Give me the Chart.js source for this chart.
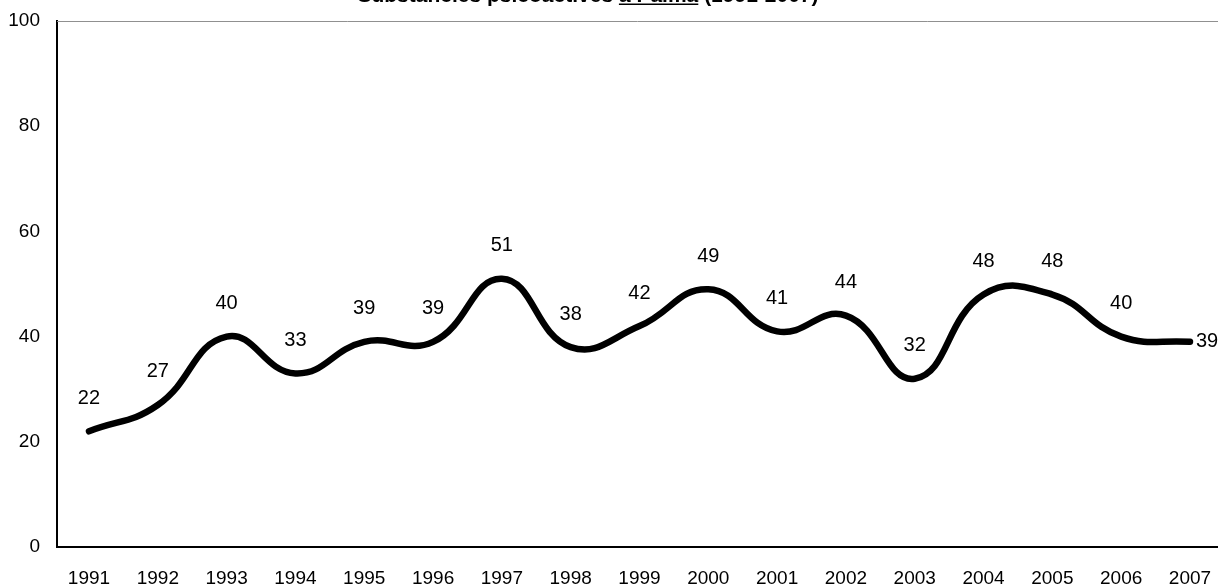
<!DOCTYPE html>
<html>
<head>
<meta charset="utf-8">
<script src="https://cdn.jsdelivr.net/npm/chart.js@4"></script>
<style>
  html, body { margin: 0; padding: 0; background: #fff; overflow: hidden; }
  #wrap { width: 1218px; height: 586px; }
</style>
</head>
<body>
<div id="wrap"><canvas id="myChart" width="1218" height="586"></canvas></div>
<script>
const years = ['1991', '1992', '1993', '1994', '1995', '1996', '1997', '1998', '1999',
               '2000', '2001', '2002', '2003', '2004', '2005', '2006', '2007']
const values = [22, 27, 40, 33, 39, 39, 51, 38, 42, 49, 41, 44, 32, 48, 48, 40, 39]
const yTicks = [0, 20, 40, 60, 80, 100]

const titleText = 'Substancies psicoactives '
const titleUnderlined = 'a Palma'
const titleEnd = ' (1991-2007)'

const FONT = '"Liberation Sans", Arial, sans-serif'

// title is cut off at the top edge in the original
const titlePlugin = {
    id: 'cutTitle',
    afterDraw(chart) {
        const ctx = chart.ctx
        ctx.save()
        ctx.font = 'bold 21px ' + FONT
        ctx.fillStyle = '#000'
        ctx.textBaseline = 'alphabetic'
        const full = titleText + titleUnderlined + titleEnd
        const w = ctx.measureText(full).width
        let x = 588 - w / 2
        const y = 2
        ctx.textAlign = 'left'
        ctx.fillText(titleText, x, y)
        x += ctx.measureText(titleText).width
        const uw = ctx.measureText(titleUnderlined).width
        ctx.fillText(titleUnderlined, x, y)
        ctx.fillRect(x, y + 1.5, uw, 1.5)
        x += uw
        ctx.fillText(titleEnd, x, y)
        ctx.restore()
    }
}

const framePlugin = {
    id: 'frame',
    beforeDatasetsDraw(chart) {
        const { ctx, chartArea } = chart
        ctx.save()
        ctx.strokeStyle = '#909090'
        ctx.lineWidth = 1
        ctx.beginPath()
        ctx.moveTo(chartArea.left, chartArea.top + 0.5)
        ctx.lineTo(chart.width, chartArea.top + 0.5)
        ctx.stroke()
        ctx.restore()
    }
}

const labelPlugin = {
    id: 'valueLabels',
    afterDatasetsDraw(chart) {
        const ctx = chart.ctx
        const meta = chart.getDatasetMeta(0)
        ctx.save()
        ctx.font = '20px ' + FONT
        ctx.fillStyle = '#000'
        ctx.textBaseline = 'middle'
        meta.data.forEach((pt, i) => {
            const txt = String(values[i])
            if (i === values.length - 1) {
                ctx.textAlign = 'left'
                ctx.fillText(txt, pt.x + 6, pt.y)
            } else {
                ctx.textAlign = 'center'
                ctx.fillText(txt, pt.x, pt.y - 33)
            }
        })
        ctx.restore()
    }
}

const chartInstance = new Chart(document.getElementById('myChart'), {
    type: 'line',
    data: {
        datasets: [
            {
                label: 'Palma',
                data: values.map((v, i) => ({ x: i, y: v })),
                borderColor: '#000',
                backgroundColor: '#000',
                borderWidth: 6.5,
                borderCapStyle: 'round',
                borderJoinStyle: 'round',
                pointRadius: 0,
                tension: 0.45,
                fill: false,
            }
        ]
    },
    options: {
        responsive: false,
        animation: false,
        layout: { padding: { top: 21, right: 0, left: 0, bottom: 0 } },
        plugins: {
            legend: { display: false },
            tooltip: { enabled: false },
        },
        scales: {
            x: {
                type: 'linear',
                min: -0.465,
                max: 16.407,
                afterBuildTicks: (scale) => {
                    scale.ticks = years.map((y, i) => ({ value: i }))
                },
                afterFit: (scale) => {
                    scale.height = 39
                    scale.paddingLeft = 0
                    scale.paddingRight = 0
                },
                grid: { display: false, drawTicks: false },
                border: { display: true, color: '#000', width: 2 },
                ticks: {
                    autoSkip: false,
                    maxRotation: 0,
                    padding: 20,
                    color: '#000',
                    font: { family: FONT, size: 19 },
                    callback: (v) => years[v],
                },
            },
            y: {
                min: 0,
                max: 100,
                afterBuildTicks: (scale) => {
                    scale.ticks = yTicks.map((v) => ({ value: v }))
                },
                afterFit: (scale) => {
                    scale.width = 57
                    scale.paddingTop = 0
                    scale.paddingBottom = 0
                },
                grid: { display: false, drawTicks: false },
                border: { display: true, color: '#000', width: 2 },
                ticks: {
                    padding: 17,
                    color: '#000',
                    font: { family: FONT, size: 19 },
                },
            },
        },
    },
    plugins: [titlePlugin, framePlugin, labelPlugin],
})
</script>
</body>
</html>
